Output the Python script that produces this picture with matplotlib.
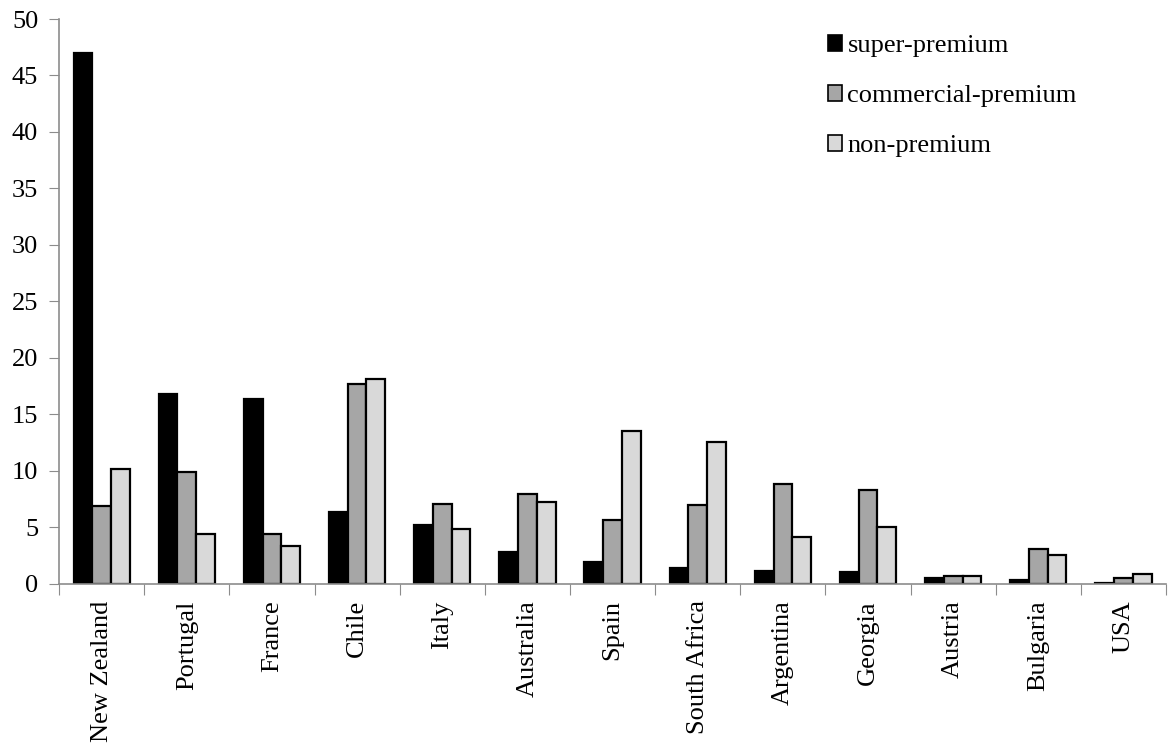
import numpy as np
from matplotlib import pyplot as plt
from matplotlib.patches import Patch

countries = ["New Zealand", "Portugal", "France", "Chile", "Italy", "Australia",
             "Spain", "South Africa", "Argentina", "Georgia", "Austria",
             "Bulgaria", "USA"]
super_premium = [47.0, 16.8, 16.3, 6.3, 5.2, 2.8, 1.95, 1.4, 1.15, 1.05, 0.45, 0.3, 0.06]
commercial_premium = [6.9, 9.9, 4.4, 17.7, 7.05, 7.95, 5.65, 6.95, 8.8, 8.25, 0.7, 3.05, 0.45]
non_premium = [10.1, 4.4, 3.3, 18.1, 4.85, 7.25, 13.55, 12.55, 4.15, 5.0, 0.7, 2.5, 0.85]

series = [("super-premium", super_premium, "black"),
          ("commercial-premium", commercial_premium, "#a6a6a6"),
          ("non-premium", non_premium, "#d9d9d9")]

plt.rcParams['font.family'] = ['Liberation Serif', 'DejaVu Serif']
axis_grey = "#8c8c8c"
font_size = 19

fig = plt.figure(figsize=(11.69, 7.54), dpi=100)
ax = fig.add_axes([0.0505, 0.2261, 0.947, 0.7487])

x = np.arange(len(countries))
width = 0.22
for i, (name, vals, color) in enumerate(series):
    ax.bar(x + (i - 1) * width, vals, width, color=color, edgecolor="black",
           linewidth=1.6, label=name)

ax.set_xlim(-0.5, len(countries) - 0.5)
ax.set_ylim(0, 50)
ax.set_yticks(range(0, 51, 5))
ax.tick_params(axis='y', labelsize=font_size, length=7, color=axis_grey, pad=8)

ax.set_xticks(np.arange(len(countries) + 1) - 0.5)
ax.set_xticklabels([])
ax.set_xticks(x, minor=True)
ax.set_xticklabels(countries, minor=True, rotation=90, fontsize=font_size, va='top')
ax.tick_params(axis='x', which='major', length=8, color=axis_grey)
ax.tick_params(axis='x', which='minor', length=0, pad=12)

for side in ("top", "right"):
    ax.spines[side].set_visible(False)
for side in ("left", "bottom"):
    ax.spines[side].set_color(axis_grey)
    ax.spines[side].set_linewidth(1.2)

handles = [Patch(facecolor=c, edgecolor="black", linewidth=1.2) for _, _, c in series]
ax.legend(handles, [s[0] for s in series], loc='upper left',
          bbox_to_anchor=(0.68, 1.0), frameon=False, fontsize=font_size,
          handlelength=0.55, handleheight=0.55, handletextpad=0.2,
          labelspacing=1.05, borderaxespad=0.2)

fig.savefig("out.png", dpi=100)
